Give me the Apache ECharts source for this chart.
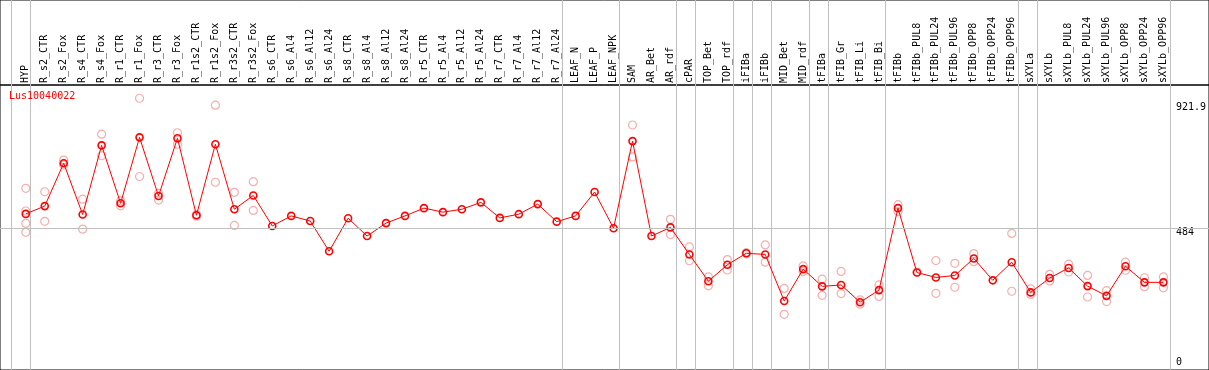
<!DOCTYPE html>
<html>
<head>
<meta charset="utf-8">
<script src="https://cdn.jsdelivr.net/npm/echarts@6/dist/echarts.min.js"></script>
<style>
html,body{margin:0;padding:0;background:#fff;}
#c{width:1209px;height:370px;}
</style>
</head>
<body>
<div id="c"></div>
<script>
const title = 'Lus10040022';
const categories = ['HYP','R_s2_CTR','R_s2_Fox','R_s4_CTR','R_s4_Fox','R_r1_CTR','R_r1_Fox','R_r3_CTR','R_r3_Fox','R_r1s2_CTR','R_r1s2_Fox','R_r3s2_CTR','R_r3s2_Fox','R_s6_CTR','R_s6_Al4','R_s6_Al12','R_s6_Al24','R_s8_CTR','R_s8_Al4','R_s8_Al12','R_s8_Al24','R_r5_CTR','R_r5_Al4','R_r5_Al12','R_r5_Al24','R_r7_CTR','R_r7_Al4','R_r7_Al12','R_r7_Al24','LEAF_N','LEAF_P','LEAF_NPK','SAM','AR_Bet','AR_rdf','cPAR','TOP_Bet','TOP_rdf','iFIBa','iFIBb','MID_Bet','MID_rdf','tFIBa','tFIB_Gr','tFIB_Li','tFIB_Bi','tFIBb','tFIBb_PUL8','tFIBb_PUL24','tFIBb_PUL96','tFIBb_OPP8','tFIBb_OPP24','tFIBb_OPP96','sXYLa','sXYLb','sXYLb_PUL8','sXYLb_PUL24','sXYLb_PUL96','sXYLb_OPP8','sXYLb_OPP24','sXYLb_OPP96'];
const means = [534,561,710,532,772,571,800,596,797,529,776,550,598,492,527,509,404,519,457,502,527,554,540,550,574,520,533,568,507,527,610,484,787,457,487,393,300,357,397,393,231,342,282,287,227,269,554,330,313,320,379,303,366,261,311,346,283,249,352,296,296];
const replicates = [[623,544,501,470],[611,508],[721,704],[585,481],[811,736],[579,562],[936,664],[605,582],[816,776],[532,526],[912,644],[609,494],[646,546],[],[],[],[],[],[],[],[],[],[],[],[],[],[],[],[],[],[],[],[843,732],[],[515,462],[419,371],[315,284],[375,339],[399,395],[426,366],[275,185],[353,333],[307,251],[334,257],[235,220],[287,247],[566,542],[332],[372,258],[362,279],[396,368],[],[466,265],[273,254],[324,301],[359,332],[320,245],[267,229],[366,338],[312,281],[315,277]];
const groupStarts = [0,1,29,32,35,36,38,39,40,42,43,46,53,54];
const yTicks = [0,484,921.9];
const refLine = 484;
const yMax = 982;

const repData = [];
replicates.forEach((r, i) => r.forEach(v => repData.push([i, v])));

const FONT = 'DejaVu Sans Mono';
const chart = echarts.init(document.getElementById('c'), null, {renderer: 'canvas'});
const hiddenVal = (gi, extra) => Object.assign({type: 'value', gridIndex: gi, show: false, splitLine: {show: false}}, extra || {});

chart.setOption({
  animation: false,
  backgroundColor: '#fff',
  title: {text: title, left: 9, top: 91, padding: 0, textStyle: {color: '#ff0000', fontSize: 10, fontWeight: 'normal', fontFamily: FONT}},
  grid: [
    {left: 11, width: 1159, top: 0, bottom: 0},
    {left: 16.3, width: 1159, top: 85, bottom: 2.5},
    {left: 0, right: 0, top: 0, height: 85, show: true, borderColor: '#000', borderWidth: 1, backgroundColor: 'transparent'},
    {left: 0, right: 0, top: 85, bottom: 0, show: true, borderColor: '#000', borderWidth: 1, backgroundColor: 'transparent'},
    {left: 0, right: 0, top: 85, bottom: 2.5}
  ],
  xAxis: [
    {type: 'category', gridIndex: 0, data: categories, boundaryGap: true,
     axisLine: {show: false}, axisTick: {show: false}, axisLabel: {show: false},
     splitLine: {show: true, interval: (idx) => groupStarts.indexOf(idx) >= 0, lineStyle: {color: '#c0c0c0', width: 1}}},
    {type: 'category', gridIndex: 1, data: categories, position: 'top', boundaryGap: true,
     axisLine: {show: false}, axisTick: {show: false}, splitLine: {show: false},
     axisLabel: {interval: 0, rotate: 90, margin: 2, color: '#000', fontSize: 10, fontFamily: FONT}},
    hiddenVal(2), hiddenVal(3), hiddenVal(4)
  ],
  yAxis: [
    hiddenVal(0),
    {type: 'value', gridIndex: 1, position: 'right', min: 0, max: yMax,
     axisLine: {show: false}, axisTick: {show: false}, splitLine: {show: false},
     axisLabel: {customValues: yTicks, margin: 3, color: '#000', fontSize: 10, fontFamily: FONT,
       showMinLabel: true, showMaxLabel: true, hideOverlap: false,
       formatter: (v) => v === 0 ? '{b|' + v + '}' : (v > 900 ? '{t|' + v + '}' : '{m|' + v + '}'),
       rich: {
         b: {fontSize: 10, fontFamily: FONT, color: '#000', padding: [0, 0, 11, 0]},
         t: {fontSize: 10, fontFamily: FONT, color: '#000', padding: [10, 0, 0, 0]},
         m: {fontSize: 10, fontFamily: FONT, color: '#000', padding: [8, 0, 0, 0]}
       }}},
    hiddenVal(2), hiddenVal(3),
    hiddenVal(4, {min: 0, max: yMax})
  ],
  series: [
    {type: 'line', xAxisIndex: 4, yAxisIndex: 4, data: [], silent: true,
     markLine: {silent: true, symbol: 'none', label: {show: false},
       lineStyle: {color: '#c0c0c0', width: 1, type: 'solid'}, data: [{yAxis: refLine}]}},
    {type: 'scatter', xAxisIndex: 1, yAxisIndex: 1, data: repData, symbol: 'circle', symbolSize: 8, z: 3,
     itemStyle: {color: 'rgba(255,255,255,0)', borderColor: '#f09a9a', borderWidth: 1.2}},
    {type: 'line', xAxisIndex: 1, yAxisIndex: 1, data: means, symbol: 'circle', symbolSize: 7, z: 4,
     lineStyle: {color: '#ff0000', width: 1},
     itemStyle: {color: 'rgba(255,255,255,0)', borderColor: '#ff0000', borderWidth: 1.6}}
  ]
});
</script>
</body>
</html>
